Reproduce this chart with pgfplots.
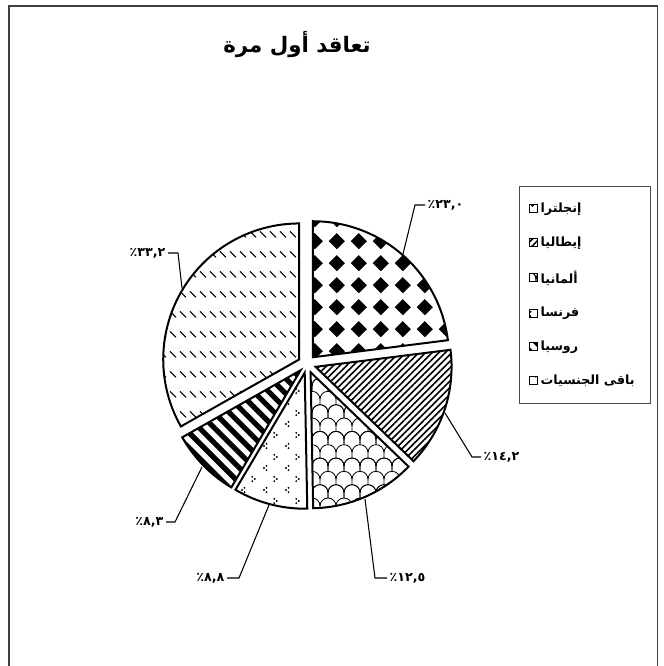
\documentclass[border=0pt]{standalone}
\usepackage{fontspec}
\usepackage{pgfplots}
\pgfplotsset{compat=1.18}
\usetikzlibrary{patterns, patterns.meta}
\newfontfamily\arfont[Script=Arabic]{DejaVu Sans}
\TeXXeTstate=1

% slice fills
\tikzdeclarepattern{name=pdiam, type=uncolored,
  bounding box={(0pt,0pt) and (16.3pt,16.3pt)}, tile size={(16.3pt,16.3pt)},
  code={\fill (8.15pt,2.1pt) -- (14.2pt,8.15pt) -- (8.15pt,14.2pt) -- (2.1pt,8.15pt) -- cycle;}}
\tikzdeclarepattern{name=pscale, type=uncolored,
  bounding box={(-7pt,-5pt) and (19pt,17pt)}, tile size={(12pt,20pt)},
  code={\draw[line width=0.6pt] (0pt,0pt) arc[start angle=180,end angle=0,radius=6pt] -- (12pt,-4pt);
        \draw[line width=0.6pt] (-6pt,10pt) arc[start angle=180,end angle=0,radius=6pt] -- (6pt,6pt);
        \draw[line width=0.6pt] (6pt,10pt) arc[start angle=180,end angle=0,radius=6pt] -- (18pt,6pt);}}
\tikzdeclarepattern{name=pchev, type=uncolored,
  bounding box={(-2.5pt,-3pt) and (12pt,12pt)}, tile size={(16.5pt,16.5pt)},
  code={\fill (0pt,0pt) circle (0.8pt) (1.9pt,1.6pt) circle (0.8pt) (1.9pt,-1.6pt) circle (0.8pt);
        \fill (9.6pt,8.25pt) circle (0.8pt) (7.7pt,9.85pt) circle (0.8pt) (7.7pt,6.65pt) circle (0.8pt);}}
\tikzdeclarepattern{name=pdash, type=uncolored,
  bounding box={(-0.5pt,-0.5pt) and (8pt,15.5pt)}, tile size={(7.5pt,15pt)},
  code={\draw[line width=0.8pt] (0pt,11pt) -- (4.5pt,6.5pt);}}

\def\cx{307}\def\cy{302}\def\rr{136}\def\dd{9}
\newcommand{\lbl}{\arfont\bfseries\fontsize{9.5}{11}\selectfont}

% #1 share before, #2 share, #3 fill, #4 legend text
\newcommand{\pieslice}[4]{%
  \pgfmathsetmacro\aS{90-3.6*#1}%
  \pgfmathsetmacro\aE{90-3.6*(#1+#2)}%
  \pgfmathsetmacro\aM{(\aS+\aE)/2}%
  \pgfmathsetmacro\ox{\cx+\dd*cos(\aM)}%
  \pgfmathsetmacro\oy{\cy+\dd*sin(\aM)}%
  \edef\doslice{\noexpand\addplot[draw=black, line width=1.5pt, pattern=#3,
    domain=\aE:\aS, samples=90] ({\ox+\rr*cos(x)}, {\oy+\rr*sin(x)}) -- (axis cs:\ox,\oy) -- cycle;}%
  \doslice
  \addlegendentry{\makebox[73pt][l]{#4}}%
}

\begin{document}
\begin{tikzpicture}
\begin{axis}[
    width=497.25pt, height=499.5pt, scale only axis,
    xmin=0, xmax=663, ymin=0, ymax=666,
    hide axis,
    legend image code/.code={\draw[#1, line width=0.9pt] (0pt,-3pt) rectangle (6pt,3pt);},
    legend style={at={(0.7828,0.7207)}, anchor=north west, draw=black!70, line width=0.6pt,
        font=\lbl, row sep=12.6pt, inner xsep=7pt, inner ysep=10.5pt, cells={anchor=west}},
]
\fill[white] (axis cs:0,0) rectangle (axis cs:663,666);
\draw[line width=1.4pt, black!75] (axis cs:9,-20) rectangle (axis cs:657.5,660);

\pieslice{0}{23.0}{pdiam}{\beginR إنجلترا\endR}
\pieslice{23.0}{14.2}{{Lines[angle=45,distance=3.5pt,line width=1.2pt]}}{\beginR إيطاليا\endR}
\pieslice{37.2}{12.5}{pscale}{\beginR ألمانيا\endR}
\pieslice{49.7}{8.8}{pchev}{\beginR فرنسا\endR}
\pieslice{58.5}{8.3}{{Lines[angle=-45,distance=8pt,line width=3.9pt]}}{\beginR روسيا\endR}
\pieslice{66.8}{33.2}{pdash}{\beginR باقى الجنسيات\endR}

% leader lines
\addplot[black, line width=0.8pt, forget plot] coordinates {(403,412) (415,461) (425,461)};
\addplot[black, line width=0.8pt, forget plot] coordinates {(445,253) (472,209) (481,209)};
\addplot[black, line width=0.8pt, forget plot] coordinates {(365,167) (375,88) (387,88)};
\addplot[black, line width=0.8pt, forget plot] coordinates {(269,161) (239,88) (227,88)};
\addplot[black, line width=0.8pt, forget plot] coordinates {(202,199) (175,144) (166,144)};
\addplot[black, line width=0.8pt, forget plot] coordinates {(182,378) (178,413) (168,413)};

\node[anchor=west, font=\lbl, inner sep=1pt] at (axis cs:426,461) {٢٣,٠٪};
\node[anchor=west, font=\lbl, inner sep=1pt] at (axis cs:482,209) {١٤,٢٪};
\node[anchor=west, font=\lbl, inner sep=1pt] at (axis cs:388,88) {١٢,٥٪};
\node[anchor=east, font=\lbl, inner sep=1pt] at (axis cs:226,88) {٨,٨٪};
\node[anchor=east, font=\lbl, inner sep=1pt] at (axis cs:165,144) {٨,٣٪};
\node[anchor=east, font=\lbl, inner sep=1pt] at (axis cs:167,413) {٣٣,٢٪};

\node[font=\arfont\bfseries\fontsize{16}{18}\selectfont] at (axis cs:297,621) {\beginR تعاقد أول مرة\endR};
\end{axis}
\end{tikzpicture}
\end{document}
